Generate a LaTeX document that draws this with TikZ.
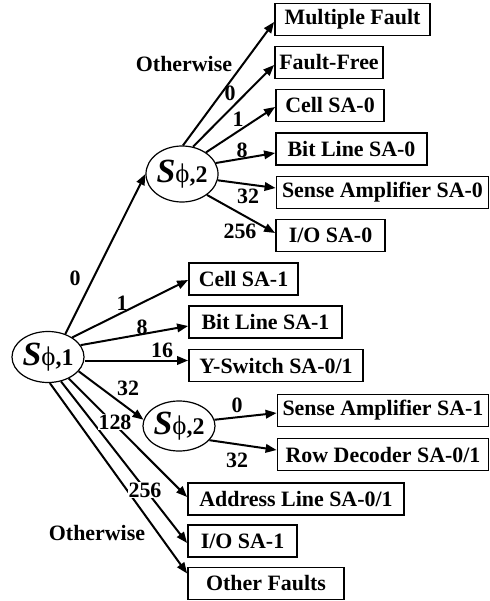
\documentclass[tikz,border=0pt]{standalone}
\usepackage{fontspec}
\setmainfont{Liberation Serif}
\usetikzlibrary{arrows.meta,calc,shapes.geometric}
\newcommand\sttxt[1]{{\fontsize{34}{34}\selectfont\bfseries\itshape S}{\fontsize{27}{27}\selectfont ϕ}{\fontsize{24}{24}\selectfont\bfseries ,#1}}
\begin{document}
\begin{tikzpicture}[x=1bp,y=-1bp,
  box/.style={draw,line width=1.8bp,minimum height=32bp,inner sep=0pt,font=\fontsize{22}{24}\selectfont\bfseries},
  st/.style={draw,ellipse,line width=1.2bp,inner sep=0pt},
  arr/.style={line width=2bp,-{Triangle[length=11bp,width=8.5bp]}},
  lbl/.style={font=\fontsize{22}{24}\selectfont\bfseries,inner sep=1bp},
  wl/.style={lbl,fill=white}]
\useasboundingbox (0,0) rectangle (490,601);
% boxes
\node[box,minimum width=155bp] (mf) at (352.5,19.5) {Multiple Fault};
\node[box,minimum width=108bp] (ff) at (329,62.5) {Fault-Free};
\node[box,minimum width=108bp] (c0) at (330,105.5) {Cell SA-0};
\node[box,minimum width=151bp] (b0) at (351.5,149) {Bit Line SA-0};
\node[box,minimum width=212bp] (s0) at (382.5,192.5) {Sense Amplifier SA-0};
\node[box,minimum width=109bp] (i0) at (330.5,235.5) {I/O SA-0};
\node[box,minimum width=109bp] (c1) at (243.5,279) {Cell SA-1};
\node[box,minimum width=153bp] (b1) at (265.5,322) {Bit Line SA-1};
\node[box,minimum width=174bp] (y1) at (276,365.5) {Y-Switch SA-0/1};
\node[box,minimum width=211bp] (sa1) at (383,410.5) {Sense Amplifier SA-1};
\node[box,minimum width=211bp] (rd) at (383,454.5) {Row Decoder SA-0/1};
\node[box,minimum width=216bp] (al) at (296,499) {Address Line SA-0/1};
\node[box,minimum width=109bp] (io1) at (242.5,541) {I/O SA-1};
\node[box,minimum width=156bp] (of) at (266,583.5) {Other Faults};
% states
\node[st,minimum width=69bp,minimum height=51bp] (e1) at (48,357) {\sttxt{1}};
\node[st,minimum width=72bp,minimum height=56bp] (e2) at (182,174) {\sttxt{2}};
\node[st,minimum width=68bp,minimum height=50bp] (e3) at (179,426) {\sttxt{2}};
% arrows from e2
\draw[arr] (e2.88) -- ($(mf.west)+(0,2.5)$);
\draw[arr] (e2.68) -- ($(ff.west)+(0,2.5)$);
\draw[arr] (e2.42) -- ($(c0.west)+(0,1.5)$);
\draw[arr] (e2.18) -- ($(b0.west)+(0,4)$);
\draw[arr] (e2.-10) -- ($(s0.west)+(0,-4.5)$);
\draw[arr] (e2.-40) -- ($(i0.west)+(0,-2.5)$);
% arrows from e1
\draw[arr] (e1.53) -- (e2.west);
\draw[arr] (e1.39) -- ($(c1.west)+(0,1)$);
\draw[arr] (e1.20) -- ($(b1.west)+(0,4)$);
\coordinate (t16) at ($(y1.west)+(0,-5)$);
\draw[arr] (t16 -| e1.east) -- (t16);
\draw[arr] (e1.-25) -- (e3.170);
\draw[arr] (e1.-46) -- ($(al.west)+(0,-2)$);
\draw[arr] (e1.-62) -- ($(io1.west)+(0,2)$);
\draw[arr] (e1.-86) -- ($(of.west)+(0,-10)$);
% arrows from e3
\draw[arr] (e3.10) -- ($(sa1.west)+(0,2.5)$);
\draw[arr] (e3.-25) -- ($(rd.west)+(0,-4.5)$);
% labels
\node[lbl] (l1) at (184,64) {Otherwise};
\node[lbl] (l2) at (230,93) {0};
\node[lbl] (l3) at (238,119) {1};
\node[lbl] (l4) at (242,150) {8};
\node[lbl] (l5) at (248,196) {32};
\node[lbl] (l6) at (240,231) {256};
\node[lbl] (l7) at (75,278) {0};
\node[lbl] (l8) at (122,303) {1};
\node[lbl] (l9) at (142,327) {8};
\node[lbl] (l10) at (162,350) {16};
\node[lbl] (l11) at (128,388) {32};
\node[wl] (l12) at (115,422) {128};
\node[wl] (l13) at (145,490) {256};
\node[lbl] (l14) at (97,533) {Otherwise};
\node[lbl] (l15) at (237,405) {0};
\node[lbl] (l16) at (237,460) {32};
\end{tikzpicture}
\end{document}
